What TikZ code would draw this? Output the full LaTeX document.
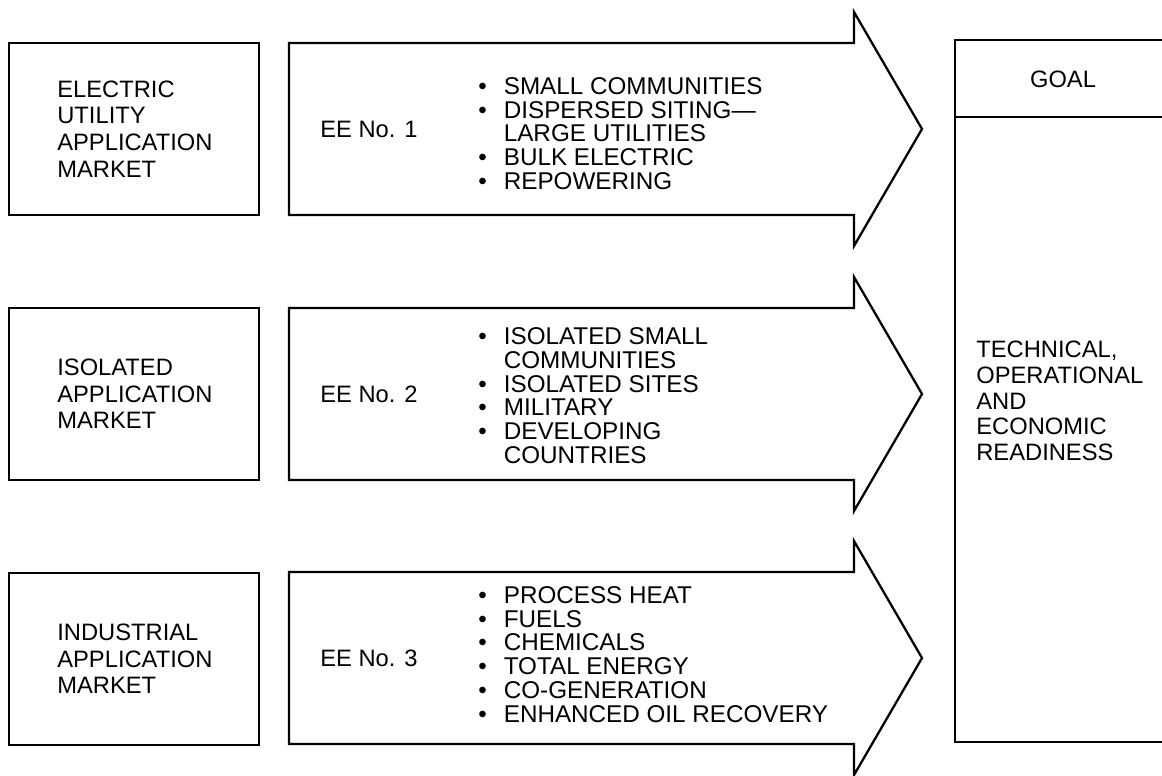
\documentclass[tikz,border=0pt]{standalone}
\usepackage{fontspec}
\setmainfont{Liberation Sans}
\begin{document}
\begin{tikzpicture}[
        x=0.02cm, y=-0.02cm,
        market/.style={rectangle, draw, line width=1.3pt, minimum width=5cm, minimum height=3.44cm},
        mktext/.style={font=\fontsize{13.5}{15.2}\selectfont, align=left, anchor=west, inner sep=0pt},
        eetext/.style={font=\fontsize{13.5}{15}\selectfont, anchor=west, inner sep=0pt},
        bullets/.style={font=\fontsize{13.8}{13.3}\selectfont, anchor=west, inner sep=0pt},
        bigarrow/.style={draw, line width=1.3pt, line join=miter}
    ]
        \clip (0,0) rectangle (1162,776);

        % market boxes
        \node[market] (elec) at (134,129) {};
        \node[mktext] at (57,129) {ELECTRIC\\UTILITY\\APPLICATION\\MARKET};
        \node[market] (isol) at (134,394) {};
        \node[mktext] at (57,394) {ISOLATED\\APPLICATION\\MARKET};
        \node[market] (indu) at (134,659) {};
        \node[mktext] at (57,659) {INDUSTRIAL\\APPLICATION\\MARKET};

        % big arrows
        \foreach \c in {129,394,658}
            \draw[bigarrow] (289,\c-86) -- (854,\c-86) -- (854,\c-117) -- (922,\c)
                -- (854,\c+117) -- (854,\c+86) -- (289,\c+86) -- cycle;

        \node[eetext] (ee1) at (320,129) {EE No. 1};
        \node[eetext] (ee2) at (320,394) {EE No. 2};
        \node[eetext] (ee3) at (320,658) {EE No. 3};

        \node[bullets] (list1) at (478,137) {\begin{tabular}{@{}l@{\hspace{0.34cm}}l@{}}
            \textbullet & SMALL COMMUNITIES\\
            \textbullet & DISPERSED SITING---\\
                        & LARGE UTILITIES\\
            \textbullet & BULK ELECTRIC\\
            \textbullet & REPOWERING
        \end{tabular}};
        \node[bullets] (list2) at (478,399) {\begin{tabular}{@{}l@{\hspace{0.34cm}}l@{}}
            \textbullet & ISOLATED SMALL\\
                        & COMMUNITIES\\
            \textbullet & ISOLATED SITES\\
            \textbullet & MILITARY\\
            \textbullet & DEVELOPING\\
                        & COUNTRIES
        \end{tabular}};
        \node[bullets] (list3) at (478,658) {\begin{tabular}{@{}l@{\hspace{0.34cm}}l@{}}
            \textbullet & PROCESS HEAT\\
            \textbullet & FUELS\\
            \textbullet & CHEMICALS\\
            \textbullet & TOTAL ENERGY\\
            \textbullet & CO-GENERATION\\
            \textbullet & ENHANCED OIL RECOVERY
        \end{tabular}};

        % goal column
        \draw[line width=1.3pt] (955,40) rectangle (1171,742);
        \draw[line width=1.3pt] (955,117) -- (1171,117);
        \node[eetext, anchor=center] (goal) at (1063,79) {GOAL};
        \node[mktext, font=\fontsize{13.5}{14.6}\selectfont] (ready) at (976,401)
            {TECHNICAL,\\OPERATIONAL\\AND\\ECONOMIC\\READINESS};
    \end{tikzpicture}
\end{document}
